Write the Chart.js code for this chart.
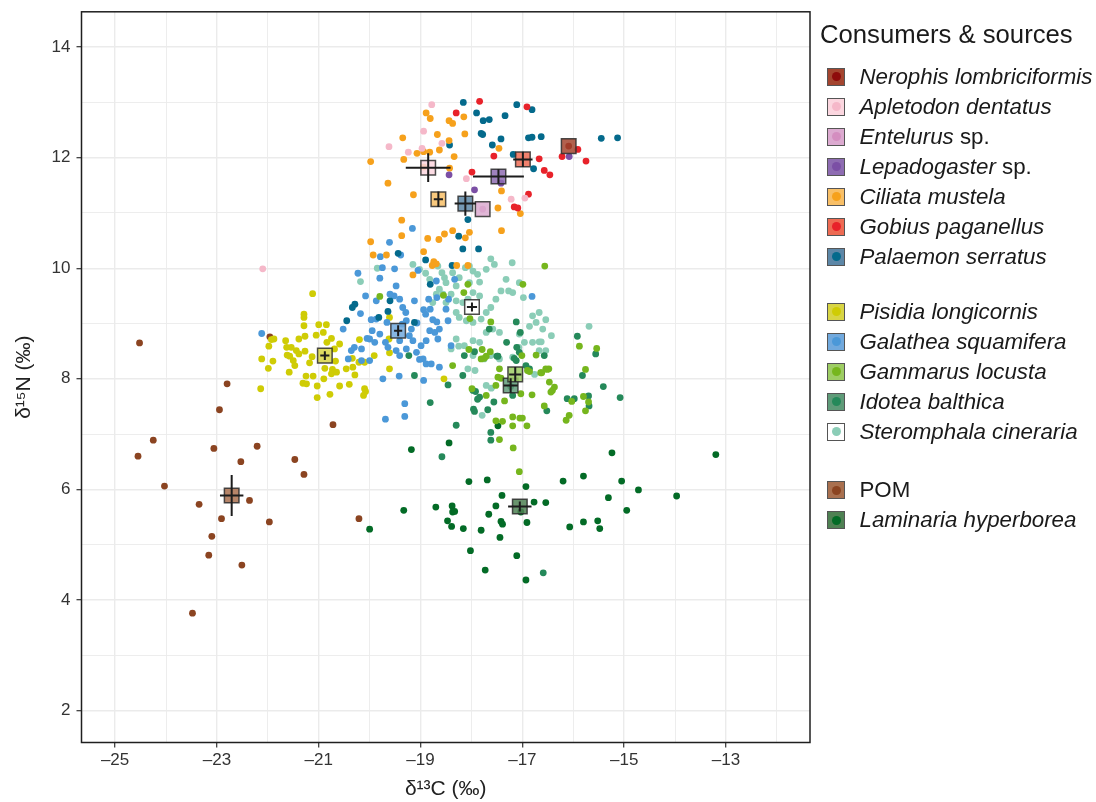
<!DOCTYPE html>
<html>
<head>
<meta charset="utf-8">
<script src="https://cdn.jsdelivr.net/npm/chart.js@4.4.1/dist/chart.umd.min.js"></script>
<style>
  body { margin: 0; background: #fff; }
  #wrap { position: relative; width: 1096px; height: 802px; font-family: 'Liberation Sans', Arial, Helvetica, sans-serif; color: #1a1a1a; }
  #legend .title { position: absolute; left: 820px; top: 19px; height: 30px; line-height: 30px; font-size: 25.7px; white-space: nowrap; }
  #legend .row { position: absolute; left: 827px; height: 30px; line-height: 30px; font-size: 22.3px; white-space: nowrap; }
  #legend .box { position: absolute; left: 0; top: 6px; width: 16px; height: 16px; border: 1px solid #555; }
  #legend .dot { position: absolute; left: 3.5px; top: 3.5px; width: 9px; height: 9px; border-radius: 50%; }
  #legend .lab { position: absolute; left: 32.5px; top: 0; }
</style>
</head>
<body>
<div id="wrap">
  <canvas id="c" width="1096" height="802"></canvas>
  <div id="legend"></div>
</div>
<script>
// legend order
const species = ['Nerophis lombriciformis', 'Apletodon dentatus', 'Entelurus sp.', 'Lepadogaster sp.',
  'Ciliata mustela', 'Gobius paganellus', 'Palaemon serratus', 'Pisidia longicornis', 'Galathea squamifera',
  'Gammarus locusta', 'Idotea balthica', 'Steromphala cineraria', 'POM', 'Laminaria hyperborea'];

// group means and SD (‰)
const meanC = [-16.09, -18.85, -17.78, -17.47, -18.65, -16.99, -18.12, -20.88, -19.44, -17.14, -17.23, -17.99, -22.71, -17.05];
const meanN = [12.21, 11.82, 11.07, 11.66, 11.25, 11.97, 11.17, 8.42, 8.87, 8.08, 7.88, 9.30, 5.89, 5.69];
const sdC = [0, 0.44, 0, 0.50, 0.09, 0.19, 0.21, 0.09, 0.08, 0.12, 0.14, 0.10, 0.23, 0.23];
const sdN = [0, 0.26, 0, 0.13, 0.14, 0.14, 0.22, 0.08, 0.10, 0.135, 0.13, 0.08, 0.37, 0.09];

// individual values: d13C / d15N
const nerophisC = [-16.09];
const nerophisN = [12.21];
const apletodonC = [-18.78, -18.94, -19.62, -19.24, -18.97, -18.58, -18.10, -17.22, -16.95, -22.10];
const apletodonN = [12.96, 12.48, 12.20, 12.10, 12.17, 12.26, 11.62, 11.25, 11.27, 9.99];
const entelurusC = [-17.78];
const entelurusN = [11.07];
const lepadogasterC = [-18.44, -17.94, -17.42, -16.08];
const lepadogasterN = [11.69, 11.42, 11.54, 12.02];
const ciliataC = [-18.89, -18.81, -18.44, -18.37, -18.15, -19.35, -18.67, -18.44, -18.13, -18.63,
  -19.07, -18.94, -18.82, -18.34, -19.98, -19.33, -18.94, -18.43, -17.46, -19.64,
  -19.14, -17.41, -17.48, -17.04, -19.37, -19.37, -18.86, -18.64, -18.53, -18.37,
  -18.12, -18.04, -17.41, -19.98, -19.93, -19.67, -18.94, -18.74, -18.69, -18.77,
  -18.29, -18.07, -19.15];
const ciliataN = [12.81, 12.71, 12.67, 12.62, 12.74, 12.36, 12.42, 12.31, 12.43, 12.14,
  12.08, 12.11, 12.10, 12.02, 11.93, 11.97, 11.83, 11.81, 12.17, 11.54,
  11.33, 11.40, 11.09, 10.99, 10.87, 10.59, 10.54, 10.52, 10.62, 10.68,
  10.55, 10.65, 10.68, 10.48, 10.24, 10.24, 10.30, 10.12, 10.08, 10.05,
  10.05, 10.05, 9.88];
const gobiusC = [-17.84, -16.91, -18.30, -17.56, -17.99, -16.67, -16.57, -16.46, -16.88, -17.16, -17.09, -16.22, -15.91, -15.75];
const gobiusN = [13.02, 12.92, 12.81, 12.03, 11.74, 11.98, 11.77, 11.69, 11.34, 11.11, 11.09, 12.02, 12.15, 11.94];
const palaemonC = [-18.16, -17.11, -16.81, -17.90, -17.77, -17.65, -17.34, -17.81, -17.78, -17.42,
  -17.59, -18.43, -16.88, -16.81, -16.63, -17.18, -16.78, -18.07, -18.25, -18.17,
  -17.86, -19.44, -18.90, -18.38, -15.45, -15.13, -18.81, -19.60, -20.29, -20.34,
  -20.45, -19.82, -19.64, -19.12];
const palaemonN = [13.00, 12.96, 12.87, 12.81, 12.67, 12.69, 12.76, 12.44, 12.42, 12.34,
  12.23, 12.23, 12.36, 12.37, 12.38, 12.06, 11.80, 10.88, 10.58, 10.35,
  10.35, 10.27, 10.15, 10.05, 12.35, 12.36, 9.71, 9.41, 9.35, 9.29,
  9.05, 9.11, 9.22, 9.02];
const pisidiaC = [-21.12, -21.29, -21.29, -21.29, -21.00, -20.85, -20.91, -21.05, -21.27, -21.39,
  -21.65, -21.88, -21.93, -21.98, -21.63, -21.54, -21.44, -21.39, -21.27, -21.62,
  -21.57, -21.50, -21.47, -21.90, -22.12, -21.99, -21.58, -21.18, -21.13, -20.84,
  -20.75, -20.59, -20.69, -20.67, -20.88, -20.73, -20.75, -20.65, -20.46, -20.34,
  -20.20, -20.33, -20.21, -20.10, -20.29, -19.91, -19.61, -19.61, -19.61, -19.62,
  -20.90, -21.11, -21.25, -21.31, -21.24, -21.03, -20.78, -21.03, -20.59, -20.40,
  -20.10, -20.08, -20.12, -22.14, -18.54];
const pisidiaN = [9.54, 9.17, 9.11, 8.96, 8.98, 8.98, 8.84, 8.79, 8.77, 8.72,
  8.69, 8.72, 8.71, 8.59, 8.57, 8.57, 8.51, 8.45, 8.50, 8.43,
  8.41, 8.33, 8.24, 8.32, 8.36, 8.19, 8.12, 8.29, 8.40, 8.66,
  8.73, 8.63, 8.54, 8.32, 8.19, 8.17, 8.09, 8.12, 8.18, 8.37,
  8.71, 8.21, 8.30, 8.30, 8.07, 8.42, 8.47, 8.18, 9.11, 8.72,
  8.00, 8.05, 8.05, 7.92, 7.91, 7.87, 7.72, 7.66, 7.87, 7.90,
  7.82, 7.77, 7.70, 7.82, 8.00];
const galatheaC = [-19.61, -19.79, -19.75, -19.51, -20.23, -19.80, -20.08, -19.87, -19.60, -19.52,
  -19.41, -19.48, -19.35, -19.29, -19.12, -18.84, -18.81, -18.68, -18.50, -18.33,
  -18.69, -18.94, -19.07, -19.22, -19.97, -19.95, -19.80, -20.00, -20.16, -20.30,
  -20.36, -20.52, -20.42, -20.16, -20.00, -19.64, -19.48, -19.41, -19.28, -19.15,
  -19.08, -18.99, -18.89, -18.82, -18.72, -18.63, -18.66, -19.02, -18.95, -18.89,
  -18.79, -18.63, -18.40, -18.94, -19.74, -19.42, -19.31, -19.31, -19.69, -20.05,
  -19.90, -19.69, -19.41, -19.28, -19.18, -19.36, -19.66, -19.87, -18.76, -18.90,
  -18.68, -18.46, -18.45, -16.81, -22.12, -20.18, -19.16, -19.39, -19.05];
const galatheaN = [10.47, 10.21, 10.01, 9.99, 9.91, 9.82, 9.50, 9.41, 9.53, 9.50,
  9.44, 9.68, 9.29, 9.20, 9.41, 9.44, 9.26, 9.47, 9.26, 9.80,
  9.77, 9.25, 9.01, 8.78, 9.07, 8.87, 8.81, 8.72, 8.54, 8.57,
  8.51, 8.90, 8.36, 8.33, 8.33, 8.57, 8.51, 8.42, 8.54, 8.69,
  8.48, 8.60, 8.69, 8.87, 8.84, 8.90, 8.72, 8.35, 8.36, 8.27,
  8.27, 8.21, 8.60, 7.97, 8.00, 8.05, 7.55, 7.32, 7.27, 8.73,
  8.66, 8.66, 8.69, 9.05, 8.90, 8.99, 9.02, 9.08, 9.07, 9.17,
  9.03, 9.05, 9.44, 9.49, 8.82, 9.18, 10.72, 10.24, 9.96];
const gammarusC = [-18.07, -18.55, -19.80, -18.15, -18.03, -17.62, -16.56, -16.99, -17.79, -17.75,
  -17.81, -18.05, -17.71, -17.63, -18.37, -17.45, -17.48, -17.42, -17.52, -17.01,
  -16.90, -16.86, -16.73, -16.62, -16.54, -16.48, -16.47, -16.37, -16.41, -16.44,
  -16.81, -17.35, -17.71, -17.99, -17.03, -17.19, -17.05, -17.00, -17.52, -17.39,
  -17.19, -16.91, -17.45, -17.18, -17.06, -15.88, -15.54, -15.76, -15.70, -15.76,
  -16.03, -16.08, -16.14, -16.57, -16.51, -16.64, -15.80];
const gammarusN = [9.71, 9.51, 9.49, 9.56, 9.09, 9.03, 10.04, 9.71, 8.53, 8.37,
  8.36, 8.53, 8.41, 8.49, 8.24, 8.18, 8.03, 8.01, 7.88, 8.42,
  8.15, 8.13, 8.43, 8.11, 8.18, 8.18, 7.94, 7.85, 7.79, 7.76,
  7.71, 7.60, 7.70, 7.82, 7.73, 7.31, 7.29, 7.29, 7.24, 7.23,
  7.15, 7.15, 6.90, 6.75, 6.32, 8.59, 8.55, 8.17, 7.58, 7.42,
  7.59, 7.34, 7.25, 7.51, 8.17, 8.11, 7.68];
const idoteaC = [-19.23, -19.12, -18.17, -18.14, -17.94, -17.48, -17.16, -17.12, -16.93, -16.86,
  -16.57, -15.56, -15.82, -15.70, -15.69, -16.12, -15.98, -15.41, -15.08, -17.97,
  -17.92, -17.84, -17.88, -17.96, -17.94, -17.68, -17.56, -17.19, -16.52, -18.81,
  -18.30, -18.58, -17.62, -17.62, -17.12, -17.04, -17.65, -17.31, -17.50, -18.46,
  -17.11, -17.06, -15.92, -16.59, -17.23];
const idoteaN = [8.42, 8.06, 8.06, 8.42, 8.49, 8.41, 8.37, 8.33, 8.24, 8.18,
  8.42, 8.45, 8.06, 7.69, 7.51, 7.64, 7.64, 7.86, 7.66, 7.79,
  7.77, 7.67, 7.63, 7.45, 7.41, 7.44, 7.58, 7.70, 7.42, 7.57,
  7.16, 6.59, 7.03, 6.89, 9.03, 8.84, 8.90, 8.66, 8.41, 7.89,
  8.57, 8.48, 8.77, 4.49, 7.86];
const steromphalaC = [-19.15, -19.02, -18.90, -18.82, -18.66, -18.58, -18.53, -18.50, -18.63, -18.37,
  -18.30, -18.24, -18.12, -18.04, -17.97, -17.88, -17.84, -17.71, -17.62, -17.55,
  -17.20, -18.04, -17.97, -17.84, -18.07, -18.17, -18.30, -18.40, -18.56, -18.69,
  -18.76, -18.50, -18.30, -18.24, -18.10, -17.97, -17.81, -17.71, -17.62, -17.52,
  -17.42, -17.32, -17.27, -17.19, -17.06, -16.98, -16.80, -16.67, -16.54, -16.60,
  -16.73, -16.86, -17.06, -16.96, -16.80, -16.67, -16.54, -16.67, -17.45, -17.58,
  -17.71, -17.84, -17.97, -18.14, -17.97, -17.75, -17.62, -17.45, -17.19, -18.40,
  -18.30, -18.07, -17.93, -17.71, -17.79, -15.69, -20.18, -19.85, -17.61, -16.76,
  -18.25, -17.07, -16.43, -16.63];
const steromphalaN = [10.07, 9.98, 9.91, 9.80, 10.04, 9.92, 9.83, 9.74, 9.62, 9.92,
  9.68, 9.83, 10.01, 10.04, 9.95, 9.89, 9.75, 9.98, 10.17, 10.07,
  10.10, 9.74, 9.56, 9.50, 9.44, 9.38, 9.41, 9.53, 9.53, 9.53,
  9.38, 9.38, 9.20, 9.11, 9.05, 9.02, 9.08, 9.20, 9.29, 9.44,
  9.59, 9.80, 9.59, 9.56, 9.74, 9.47, 9.14, 9.20, 9.07, 8.90,
  9.02, 8.95, 8.81, 8.66, 8.66, 8.67, 8.51, 8.51, 8.84, 8.90,
  8.84, 8.66, 8.69, 8.60, 8.42, 8.36, 8.42, 8.36, 8.39, 8.54,
  8.72, 8.18, 8.15, 7.88, 7.34, 8.95, 9.76, 10.00, 7.83, 8.08,
  8.59, 8.57, 8.78, 8.67];
const pomC = [-24.52, -22.80, -22.95, -20.72, -24.25, -24.55, -23.06, -22.21, -22.53, -21.47,
  -21.29, -24.03, -23.35, -22.36, -22.91, -21.97, -23.10, -23.16, -22.51, -23.48,
  -20.21, -21.96];
const pomN = [8.65, 7.91, 7.44, 7.17, 6.89, 6.60, 6.74, 6.78, 6.50, 6.54,
  6.27, 6.06, 5.73, 5.80, 5.47, 5.41, 5.15, 4.81, 4.63, 3.76,
  5.47, 8.76];
const laminariaC = [-18.44, -18.05, -17.69, -17.48, -16.93, -16.20, -15.80, -15.24, -15.05, -14.72,
  -13.97, -13.20, -17.40, -17.52, -16.77, -16.54, -18.70, -18.38, -18.37, -18.33,
  -18.47, -18.39, -18.16, -17.81, -17.66, -17.42, -17.39, -17.44, -17.03, -16.91,
  -16.07, -15.80, -15.52, -15.48, -15.31, -14.95, -18.02, -17.11, -17.73, -16.93,
  -19.18, -19.33, -20.00];
const laminariaN = [6.84, 6.14, 6.17, 7.15, 6.05, 6.15, 6.24, 6.66, 6.15, 5.99,
  5.88, 6.63, 5.89, 5.70, 5.77, 5.76, 5.68, 5.70, 5.59, 5.60,
  5.43, 5.33, 5.29, 5.26, 5.55, 5.42, 5.37, 5.13, 5.59, 5.40,
  5.32, 5.41, 5.43, 5.29, 5.85, 5.62, 4.89, 4.80, 4.54, 4.36,
  6.72, 5.62, 5.28];

const valuesC = [nerophisC, apletodonC, entelurusC, lepadogasterC, ciliataC, gobiusC, palaemonC,
  pisidiaC, galatheaC, gammarusC, idoteaC, steromphalaC, pomC, laminariaC];
const valuesN = [nerophisN, apletodonN, entelurusN, lepadogasterN, ciliataN, gobiusN, palaemonN,
  pisidiaN, galatheaN, gammarusN, idoteaN, steromphalaN, pomN, laminariaN];

const dotColors = ['#8e0c0c', '#f5b8c9', '#d48ec0', '#7b4fa5', '#f6a11c', '#e8222a', '#046a8c',
  '#cfcc05', '#4b98d8', '#76b61d', '#25895a', '#8bcdb7', '#8b4421', '#036b26'];
const boxColors = ['#a4452f', '#fbd6df', '#dcaad0', '#8e6cb2', '#f8bf67', '#ee6b53', '#5d87a7',
  '#d8d545', '#71a9dd', '#9ecd64', '#5f9b79', '#ffffff', '#a9704f', '#4f8153'];

const FONT = "'Liberation Sans', Arial, Helvetica, sans-serif";
const dash = v => (v < 0 ? '\u2013' + Math.abs(v) : String(v));

// point datasets (first listed drawn on top)
const drawOrder = [0, 2, 1, 3, 5, 4, 6, 9, 10, 8, 7, 11, 13, 12];
const datasets = [];
species.forEach((name, i) => {
  datasets.push({
    label: name,
    data: valuesC[i].map((c, k) => ({ x: c, y: valuesN[i][k] })),
    pointRadius: 3.4,
    pointHoverRadius: 3.4,
    pointBackgroundColor: dotColors[i],
    pointBorderWidth: 0,
    order: 2 + drawOrder.indexOf(i)
  });
});
species.forEach((name, i) => {
  datasets.push({
    label: name + ' mean',
    data: [{ x: meanC[i], y: meanN[i] }],
    pointStyle: 'rect',
    pointRadius: 10.3,
    pointHoverRadius: 10.3,
    pointBackgroundColor: boxColors[i] + 'd9',
    pointBorderColor: 'rgba(45,45,45,0.85)',
    pointBorderWidth: 1.5,
    order: 0
  });
});

const errorBars = {
  id: 'errorBars',
  afterDatasetsDraw(chart) {
    const { ctx, scales: { x, y } } = chart;
    ctx.save();
    ctx.strokeStyle = '#1c1c1c';
    ctx.lineWidth = 2;
    species.forEach((s, i) => {
      if (!sdC[i] && !sdN[i]) return;
      const px = x.getPixelForValue(meanC[i]);
      const py = y.getPixelForValue(meanN[i]);
      ctx.beginPath();
      ctx.moveTo(x.getPixelForValue(meanC[i] - sdC[i]), py);
      ctx.lineTo(x.getPixelForValue(meanC[i] + sdC[i]), py);
      ctx.moveTo(px, y.getPixelForValue(meanN[i] - sdN[i]));
      ctx.lineTo(px, y.getPixelForValue(meanN[i] + sdN[i]));
      ctx.stroke();
    });
    ctx.restore();
  }
};

const frame = {
  id: 'frame',
  afterDraw(chart) {
    const { ctx, chartArea: a } = chart;
    ctx.save();
    ctx.strokeStyle = '#1f1f1f';
    ctx.lineWidth = 1.5;
    ctx.strokeRect(a.left, a.top, a.right - a.left, a.bottom - a.top);
    ctx.restore();
  }
};

const isMajorX = v => Math.round(v) % 2 !== 0 && v <= -13;
const isMajorY = v => Math.round(v) % 2 === 0;

new Chart(document.getElementById('c'), {
  type: 'scatter',
  data: { datasets },
  plugins: [errorBars, frame],
  options: {
    responsive: false,
    animation: false,
    events: [],
    layout: { padding: { top: 9, right: 286, bottom: 0, left: 0 } },
    plugins: { legend: { display: false }, tooltip: { enabled: false } },
    scales: {
      x: {
        type: 'linear',
        min: -25.66,
        max: -11.35,
        afterFit: s => { s.height = 59.5; s.paddingLeft = 0; s.paddingRight = 0; },
        border: { display: false },
        grid: {
          color: '#ebebeb',
          lineWidth: c => (c.tick && isMajorX(c.tick.value) ? 1.4 : 0.9),
          tickLength: 5,
          tickColor: c => (c.tick && isMajorX(c.tick.value) ? '#333' : 'rgba(0,0,0,0)'),
          tickWidth: 1.2
        },
        ticks: {
          stepSize: 1,
          includeBounds: false,
          autoSkip: false,
          maxRotation: 0,
          padding: 3,
          color: '#333',
          font: { family: FONT, size: 17 },
          callback: v => (isMajorX(v) ? dash(v) : '')
        },
        title: {
          display: true,
          text: 'δ¹³C (‰)',
          color: '#222',
          font: { family: FONT, size: 21 },
          padding: { top: 0, bottom: 0 }
        }
      },
      y: {
        type: 'linear',
        min: 1.42,
        max: 14.64,
        afterFit: s => { s.width = 81.5; s.paddingTop = 0; s.paddingBottom = 0; },
        border: { display: false },
        grid: {
          color: '#ebebeb',
          lineWidth: c => (c.tick && isMajorY(c.tick.value) ? 1.4 : 0.9),
          tickLength: 5,
          tickColor: c => (c.tick && isMajorY(c.tick.value) ? '#333' : 'rgba(0,0,0,0)'),
          tickWidth: 1.2
        },
        ticks: {
          stepSize: 1,
          includeBounds: false,
          autoSkip: false,
          padding: 6,
          color: '#333',
          font: { family: FONT, size: 17, lineHeight: 0.9 },
          callback: v => (isMajorY(v) ? dash(v) : '')
        },
        title: {
          display: true,
          text: 'δ¹⁵N (‰)',
          color: '#222',
          font: { family: FONT, size: 21 },
          padding: { top: 12, bottom: 0 }
        }
      }
    }
  }
});

// legend (HTML so genus names can be italic)
const legend = document.getElementById('legend');
legend.innerHTML = '<div class="title">Consumers &amp; sources</div>';
species.forEach((name, i) => {
  const yc = 76.7 + 30 * i + (i >= 7 ? 25 : 0) + (i >= 12 ? 28.3 : 0);
  let label;
  if (name === 'POM') label = 'POM';
  else if (name.endsWith(' sp.')) label = '<i>' + name.slice(0, -4) + '</i> sp.';
  else label = '<i>' + name + '</i>';
  const row = document.createElement('div');
  row.className = 'row';
  row.style.top = (yc - 15) + 'px';
  row.innerHTML = '<span class="box" style="background:' + boxColors[i] + '">' +
    '<span class="dot" style="background:' + dotColors[i] + '"></span></span>' +
    '<span class="lab">' + label + '</span>';
  legend.appendChild(row);
});
</script>
</body>
</html>
